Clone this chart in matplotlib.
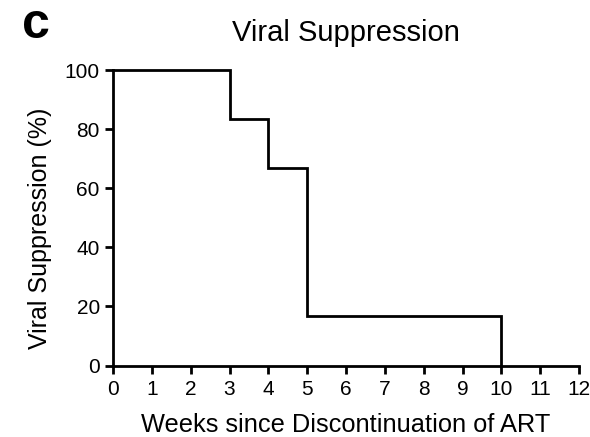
import matplotlib
matplotlib.use("Agg")
import matplotlib.pyplot as plt

plt.rcParams['font.family'] = ['Liberation Sans', 'DejaVu Sans']

# Kaplan-Meier style step data: time (weeks) and percent suppressed
weeks = [0, 3, 4, 5, 10, 10]
suppression = [100, 83.33, 66.67, 16.67, 16.67, 0]
x_ticks = list(range(0, 13))
y_ticks = [0, 20, 40, 60, 80, 100]

fig = plt.figure(figsize=(5.9, 4.37), dpi=100)
ax = fig.add_axes([0.1915, 0.1636, 0.790, 0.6762])

ax.step(weeks, suppression, where='post', color='black', lw=2.0,
        clip_on=False, solid_joinstyle='miter', zorder=3)

ax.set_xlim(0, 12)
ax.set_ylim(0, 100)
ax.set_xticks(x_ticks)
ax.set_yticks(y_ticks)
ax.tick_params(axis='both', direction='out', length=6, width=2.0,
               labelsize=15, colors='black')
ax.tick_params(axis='x', pad=4.5)
ax.tick_params(axis='y', pad=3.5)
for side in ('top', 'right'):
    ax.spines[side].set_visible(False)
for side in ('left', 'bottom'):
    ax.spines[side].set_linewidth(2.0)

ax.set_xlabel('Weeks since Discontinuation of ART', fontsize=18.3, va='baseline')
ax.xaxis.set_label_coords(0.5, -0.225)
ax.set_ylabel('Viral Suppression (%)', fontsize=18, va='center')
ax.yaxis.set_label_coords(-0.157, 0.465)

fig.text(0.587, 0.907, 'Viral Suppression', fontsize=21, ha='center', va='baseline')
fig.text(0.038, 0.913, 'c', fontsize=36, fontweight='bold', ha='left', va='baseline')

fig.savefig('out.png', dpi=100)
